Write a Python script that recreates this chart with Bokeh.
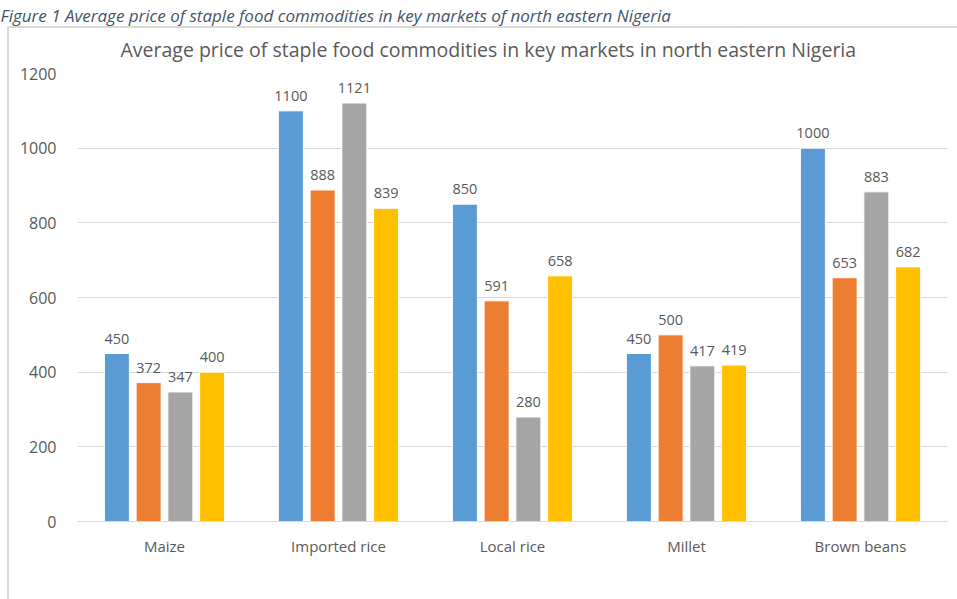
from bokeh.plotting import figure
from bokeh.models import (ColumnDataSource, FactorRange, Range1d, Legend, LegendItem,
                          Title, InlineStyleSheet)
from bokeh.transform import dodge
from bokeh.embed import file_html
from bokeh.resources import INLINE

categories = ["Maize", "Imported rice", "Local rice", "Millet", "Brown beans"]
markets = ["Damturu", "Uba", "Mubi", "Maiduguri (Monday)"]
damturu = [450, 1100, 850, 450, 1000]
uba = [372, 888, 591, 500, 653]
mubi = [347, 1121, 280, 417, 883]
maiduguri = [400, 839, 658, 419, 682]
y_ticks = [0, 200, 400, 600, 800, 1000, 1200]

caption_text = "Figure 1 Average price of staple food commodities in key markets of north eastern Nigeria"
title_text = "Average price of staple food commodities in key markets in north eastern Nigeria"

colors = ["#5B9BD5", "#ED7D31", "#A5A5A5", "#FFC000"]
series = [damturu, uba, mubi, maiduguri]
keys = ["damturu", "uba", "mubi", "maiduguri"]
offsets = [-0.2736, -0.0912, 0.0912, 0.2736]

data = {"cat": categories}
for k, s in zip(keys, series):
    data[k] = s
    data[k + "_lbl"] = [str(v) for v in s]
source = ColumnDataSource(data)

FONT = "Open Sans"
TXT = "#595959"

p = figure(x_range=FactorRange(*categories), y_range=Range1d(0, 1200),
           frame_width=870, frame_height=448, output_backend="svg", toolbar_location=None,
           min_border_left=77, min_border_right=10, min_border_top=73, min_border_bottom=78)
p.outline_line_color = None
p.background_fill_color = "white"
p.border_fill_color = "white"

# outermost title: the document caption
p.title.text = caption_text
p.title.align = "left"
p.title.offset = -77
p.title.text_font_size = "17px"
p.title.text_font_style = "italic"
p.title.text_color = "#44546A"
p.title.text_font = FONT
p.title.standoff = 0

chart_title = Title(text=title_text, align="left", offset=43, vertical_align="top",
                    text_font_size="19.5px", text_font_style="normal",
                    text_color=TXT, text_font=FONT, standoff=18)
p.add_layout(chart_title, "above")

items = []
for k, c, off, name in zip(keys, colors, offsets, markets):
    r = p.vbar(x=dodge("cat", off, range=p.x_range), top=k, width=0.1438, source=source,
               fill_color=c, line_color="white", line_width=1)
    items.append(LegendItem(label=name, renderers=[r]))
    p.text(x=dodge("cat", off, range=p.x_range), y=k, text=k + "_lbl", source=source,
           text_align="center", text_baseline="bottom", y_offset=-10,
           text_font_size="14.5px", text_color=TXT, text_font={"value": FONT})

p.yaxis.ticker = y_ticks
p.yaxis.axis_line_color = None
p.yaxis.major_tick_line_color = None
p.yaxis.minor_tick_line_color = None
p.yaxis.major_label_standoff = 15
p.yaxis.major_label_text_font_size = "16px"
p.yaxis.major_label_text_color = TXT
p.yaxis.major_label_text_font = FONT

p.xaxis.axis_line_color = "#d9d9d9"
p.xaxis.major_tick_line_color = None
p.xaxis.minor_tick_line_color = None
p.xaxis.major_label_standoff = 8
p.xaxis.major_label_text_font_size = "15px"
p.xaxis.major_label_text_color = TXT
p.xaxis.major_label_text_font = FONT

p.xgrid.grid_line_color = None
p.ygrid.grid_line_color = "#d9d9d9"

legend = Legend(items=items, orientation="horizontal", location="center",
                glyph_width=15, glyph_height=15, label_text_font_size="15px",
                label_text_color=TXT, label_text_font=FONT, spacing=18,
                border_line_color=None, background_fill_alpha=0, padding=0, margin=2,
                label_standoff=2, title="\u00a0", title_location="right", title_standoff=30)
p.add_layout(legend, "below")

p.stylesheets = [InlineStyleSheet(css=":host::after { content: ''; position: absolute; left: 7px; top: 26px; right: 0; bottom: 0; border-left: 2px solid #d9d9d9; border-top: 2px solid #d9d9d9; pointer-events: none; }")]

open("out.html", "w").write(file_html(p, INLINE))
